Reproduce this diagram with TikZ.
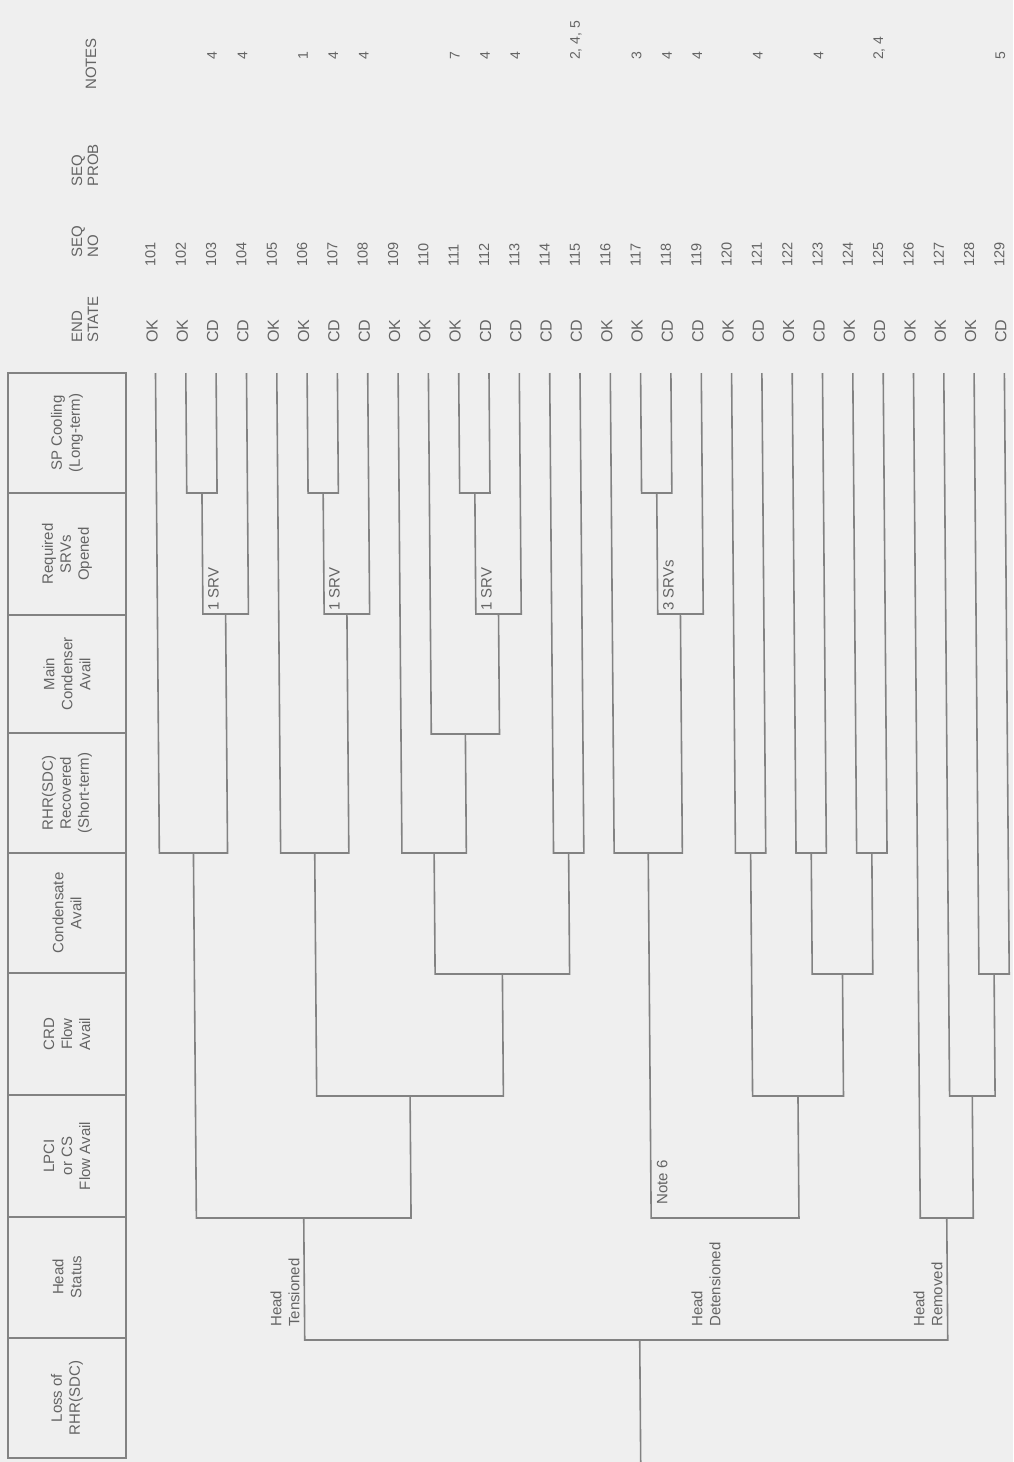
\documentclass[tikz,border=0pt]{standalone}
\usepackage{fontspec}
\setmainfont{Liberation Sans}
\definecolor{bgc}{RGB}{239,239,239}
\definecolor{linec}{RGB}{130,130,130}
\definecolor{txtc}{RGB}{100,100,100}
\begin{document}
\begin{tikzpicture}[x=1pt,y=-1pt,
  tree/.style={draw=linec,line width=1.6pt,line join=miter},
  hbox/.style={draw=linec,line width=1.7pt},
  lbl/.style={text=txtc,inner sep=0pt,rotate=90,font=\fontsize{15}{18}\selectfont},
  hlbl/.style={lbl,align=center},
  colh/.style={lbl,align=left,anchor=west,font=\fontsize{15}{16}\selectfont},
  endst/.style={lbl,anchor=west,font=\fontsize{16}{18}\selectfont},
  seqno/.style={lbl,anchor=west,font=\fontsize{14.5}{16}\selectfont},
  note/.style={lbl,anchor=west,font=\fontsize{14}{16}\selectfont},
  brl/.style={lbl,anchor=north west},
  hdl/.style={lbl,anchor=south west,align=left}]
\useasboundingbox (0,0) rectangle (1013,1462);
\fill[bgc] (0,0) rectangle (1013,1462);

% header column
\draw[hbox] (8,373) rectangle (126,1458);
\foreach \y in {493,615,733,853,973,1095,1217,1338}
  \draw[hbox] (8,\y) -- (126,\y);
\node[hlbl] (h1) at (67,433) {SP Cooling\\(Long-term)};
\node[hlbl] (h2) at (67,554) {Required\\SRVs\\Opened};
\node[hlbl] (h3) at (67,674) {Main\\Condenser\\Avail};
\node[hlbl] (h4) at (67,793) {RHR(SDC)\\Recovered\\(Short-term)};
\node[hlbl] (h5) at (67,913) {Condensate\\Avail};
\node[hlbl] (h6) at (67,1034) {CRD\\Flow\\Avail};
\node[hlbl] (h7) at (67,1156) {LPCI\\or CS\\Flow Avail};
\node[hlbl] (h8) at (67,1277) {Head\\Status};
\node[hlbl] (h9) at (67,1398) {Loss of\\RHR(SDC)};

% column headings
\node[colh] (cEnd) at (85,343) {END\\STATE};
\node[colh] (cSeqNo) at (85,258) {SEQ\\NO};
\node[colh] (cSeqProb) at (85,187) {SEQ\\PROB};
\node[colh] (cNotes) at (91,90) {NOTES};

% end states and sequence numbers
\foreach \e [count=\k from 0] in {OK,OK,CD,CD,OK,OK,CD,CD,OK,OK,OK,CD,CD,CD,CD,OK,OK,CD,CD,OK,CD,OK,CD,OK,CD,OK,OK,OK,CD}{
  \pgfmathtruncatemacro\sn{101+\k}
  \node[endst] (es\sn) at ({152+30.32*\k},343) {\e};
  \node[seqno] (sq\sn) at ({150.5+30.32*\k},267) {\sn};
}
% notes
\foreach \k/\nt in {2/4,3/4,5/1,6/4,7/4,10/7,11/4,12/4,14/{2, 4, 5},16/3,17/4,18/4,20/4,22/4,24/{2, 4},28/5}{
  \pgfmathtruncatemacro\sn{101+\k}
  \node[note] (nt\sn) at ({151.5+30.32*\k},60) {\nt};
}

% event tree (slightly sheared like the scan)
\begin{scope}[cm={1,0,-0.008,1,(-2.984pt,0pt)}]
\foreach \xl/\yl/\xr/\yr/\yj in {
  185.8/373/216.1/373/493, 201.0/493/246.5/373/614, 155.5/373/223.7/614/853,
  307.1/373/337.4/373/493, 322.2/493/367.7/373/614, 276.8/373/345.0/614/853,
  458.7/373/489.0/373/493, 473.9/493/519.3/373/614, 428.4/373/496.6/614/734,
  398.1/373/462.5/734/853, 549.7/373/580.0/373/853, 430.3/853/564.8/853/974,
  310.9/853/497.6/974/1096, 189.6/853/404.3/1096/1218,
  640.6/373/670.9/373/493, 655.8/493/701.3/373/614, 610.3/373/678.5/614/853,
  731.6/373/761.9/373/853, 792.2/373/822.5/373/853, 852.8/373/883.2/373/853,
  807.4/853/868.0/853/974, 746.8/853/837.7/974/1096, 644.4/853/792.2/1096/1218,
  974.1/373/1004.4/373/974, 943.8/373/989.3/974/1096, 913.5/373/966.5/1096/1218,
  297.0/1218/940.0/1218/1340}
  \draw[tree] (\xl,\yl) -- (\xl,\yj) -- (\xr,\yj) -- (\xr,\yr);
\coordinate (root) at (632,1340);
\coordinate (rootend) at (632,1475);
\draw[tree] (root) -- (rootend);

\node[brl] (srv1) at (206,611) {1 SRV};
\node[brl] (srv2) at (327,611) {1 SRV};
\node[brl] (srv3) at (479,611) {1 SRV};
\node[brl] (srv4) at (661,611) {3 SRVs};
\node[brl] (note6) at (650,1205) {Note 6};
\node[hdl] (hten) at (292,1327) {Head\\Tensioned};
\node[hdl] (hdet) at (713,1327) {Head\\Detensioned};
\node[hdl] (hrem) at (935,1327) {Head\\Removed};
\end{scope}
\end{tikzpicture}
\end{document}
